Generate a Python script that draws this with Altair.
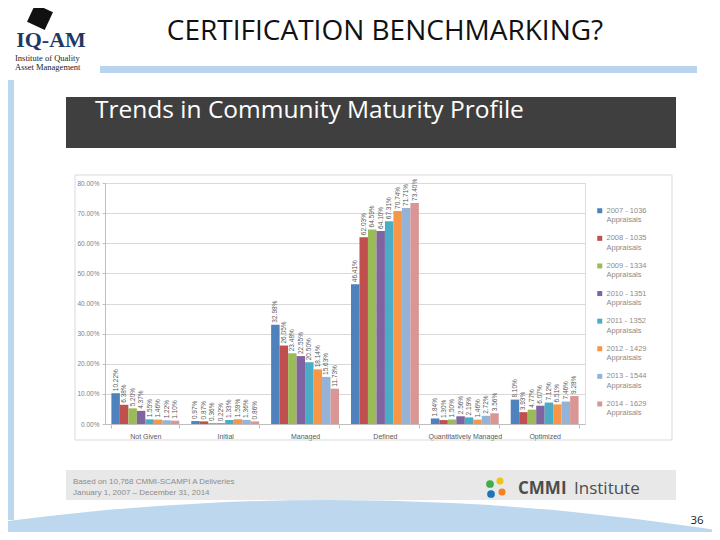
import altair as alt
import pandas as pd

# ---------------- data ----------------
categories = ["Not Given", "Initial", "Managed", "Defined",
              "Quantitatively Managed", "Optimized"]
series = ["2007 - 1036", "2008 - 1035", "2009 - 1334", "2010 - 1351",
          "2011 - 1352", "2012 - 1429", "2013 - 1544", "2014 - 1629"]
v2007 = [10.22, 0.97, 32.98, 46.41, 1.84, 8.10]
v2008 = [6.38, 0.87, 26.05, 62.03, 1.30, 3.93]
v2009 = [5.20, 0.36, 23.48, 64.59, 1.50, 4.77]
v2010 = [4.37, 0.22, 22.55, 64.10, 2.56, 6.07]
v2011 = [1.55, 1.33, 20.50, 67.31, 2.19, 7.12]
v2012 = [1.46, 1.59, 18.14, 70.74, 1.46, 6.51]
v2013 = [1.22, 1.36, 15.63, 71.71, 2.72, 7.46]
v2014 = [1.10, 0.86, 11.73, 73.40, 3.56, 9.28]
all_values = [v2007, v2008, v2009, v2010, v2011, v2012, v2013, v2014]
y_ticks = [0, 0.1, 0.2, 0.3, 0.4, 0.5, 0.6, 0.7, 0.8]
colors = ["#4F81BD", "#C0504D", "#9BBB59", "#8064A2",
          "#4BACC6", "#F79646", "#95B3D7", "#D99694"]

legend_labels = [s + "|Appraisals" for s in series]
rows = []
for lab, vals in zip(legend_labels, all_values):
    for c, v in zip(categories, vals):
        rows.append({"Category": c, "Legend": lab, "Value": v / 100.0,
                     "Label": f"{v:.2f}%"})
df = pd.DataFrame(rows)

# ---------------- layout helpers (page px -> plot px) ----------------
PLOT_X, PLOT_Y = 105, 183


def PX(x):
    return x - PLOT_X


def PY(y):
    return y - PLOT_Y


one = pd.DataFrame({"k": [0]})


def rect(x1, y1, x2, y2, **kw):
    return alt.Chart(one).mark_rect(**kw).encode(
        x=alt.value(PX(x1)), x2=alt.value(PX(x2)),
        y=alt.value(PY(y1)), y2=alt.value(PY(y2)))


def text(x, y, s, **kw):
    return alt.Chart(one).mark_text(text=s, **kw).encode(
        x=alt.value(PX(x)), y=alt.value(PY(y)))


def dot(x, y, size, color, **kw):
    return alt.Chart(one).mark_point(filled=True, color=color, size=size,
                                     opacity=1, **kw).encode(
        x=alt.value(PX(x)), y=alt.value(PY(y)))


# ---------------- slide decorations ----------------
R = 2480
deco = [
    dot(330, 500 + R, (2 * R) ** 2, "#BDD7EE", shape="circle"),
    rect(0, 80, 14, 520, color="#BDD7EE"),
    rect(100, 66, 697, 73, color="#B9D4EE"),
    rect(66, 97, 676, 148, color="#3F3F3F"),
    rect(66, 470, 676, 500, color="#E8E8E8"),
    rect(75, 175, 672, 440, fillOpacity=0, stroke="#D9D9D9", strokeWidth=1),
    text(385, 32, "CERTIFICATION BENCHMARKING?", font="Open Sans",
         fontSize=28, color="#111111", align="center", baseline="middle"),
    dot(40, 17, 380, "#111111", shape="square", angle=25),
    text(51, 40, "IQ-AM", font="Liberation Serif", fontWeight="bold",
         fontSize=22, color="#1F3864", align="center", baseline="middle"),
    text(15, 58, "Institute of Quality", font="Liberation Serif",
         fontSize=8.5, color="#222222", align="left", baseline="middle"),
    text(15, 67, "Asset Management", font="Liberation Serif",
         fontSize=8.5, color="#222222", align="left", baseline="middle"),
    text(95, 111, "Trends in Community Maturity Profile", font="Open Sans",
         fontSize=24.5, color="#FFFFFF", align="left", baseline="middle"),
    text(73, 482, "Based on 10,768 CMMI-SCAMPI A Deliveries",
         font="Liberation Sans", fontSize=8, color="#8C8C8C",
         align="left", baseline="middle"),
    text(73, 493, "January 1, 2007 \u2013 December 31, 2014",
         font="Liberation Sans", fontSize=8, color="#8C8C8C",
         align="left", baseline="middle"),
    dot(490, 484, 60, "#3DAE49"),
    dot(500, 481, 50, "#F2C314"),
    dot(502, 492, 50, "#F58220"),
    dot(491, 494, 60, "#1B75BB"),
    text(518, 489, "CMMI", font="Open Sans", fontWeight="bold",
         fontSize=17, color="#4D4D4D", align="left", baseline="middle"),
    text(574, 489, "Institute", font="Open Sans",
         fontSize=17, color="#4D4D4D", align="left", baseline="middle"),
    text(697, 521, "36", font="Open Sans", fontSize=11.5, color="#222222",
         align="center", baseline="middle"),
]

# ---------------- chart ----------------
x_enc = alt.X("Category:N", sort=categories,
              scale=alt.Scale(paddingInner=0.15, paddingOuter=0.08),
              axis=alt.Axis(title=None, labelAngle=0, labelFontSize=7,
                            labelColor="#595959", domainColor="#BFBFBF",
                            tickColor="#BFBFBF", tickBand="extent",
                            labelPadding=4, tickSize=4))
xo_enc = alt.XOffset("Legend:N", sort=legend_labels,
                     scale=alt.Scale(paddingInner=0, paddingOuter=0))
y_enc = alt.Y("Value:Q", scale=alt.Scale(domain=[0, 0.8]),
              axis=alt.Axis(title=None, format=".2%", values=y_ticks,
                            labelFontSize=6.5, labelColor="#808080",
                            gridColor="#D9D9D9", domainColor="#BFBFBF",
                            tickColor="#BFBFBF", tickSize=3, labelPadding=3))

bars = alt.Chart(df).mark_bar().encode(
    x=x_enc, xOffset=xo_enc, y=y_enc,
    color=alt.Color("Legend:N", sort=legend_labels,
                    scale=alt.Scale(domain=legend_labels, range=colors),
                    legend=alt.Legend(title=None, orient="none",
                                      legendX=PX(596), legendY=PY(207),
                                      labelExpr="split(datum.label, '|')",
                                      symbolType="square", symbolSize=25,
                                      symbolStrokeWidth=0,
                                      labelFontSize=7.5, labelColor="#8C8C8C",
                                      rowPadding=9.6, labelOffset=3)))

labels = alt.Chart(df).mark_text(angle=270, align="left", baseline="middle",
                                 dx=2, fontSize=6.5, color="#595959").encode(
    x=x_enc, xOffset=xo_enc, y=y_enc, text="Label:N")

W, H = 480, 241
CW, CH = 704, 524
chart = alt.layer(*deco, bars, labels).properties(
    width=W, height=H,
    autosize=alt.AutoSizeParams(type="none"),
    padding={"left": PLOT_X - 8, "top": PLOT_Y - 8,
             "right": CW - (PLOT_X - 8) - W,
             "bottom": CH - (PLOT_Y - 8) - H},
    background="white",
).configure_view(strokeWidth=0).configure(font="Liberation Sans")

chart.save("out.html", embed_options={"renderer": "svg", "actions": False})
